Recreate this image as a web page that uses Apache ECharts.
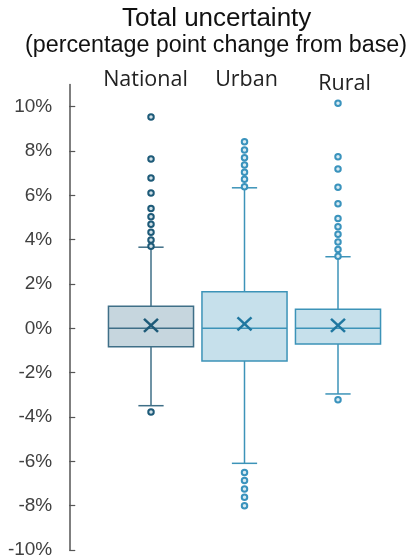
<!DOCTYPE html>
<html>
<head>
<meta charset="utf-8">
<script src="https://cdn.jsdelivr.net/npm/echarts@6/dist/echarts.min.js"></script>
<style>
  html, body { margin: 0; padding: 0; background: #ffffff; }
  #chart { width: 415px; height: 560px; }
</style>
</head>
<body>
<div id="chart"></div>
<script>
// Box-plot summaries, in percentage points
const categories = ['National', 'Urban', 'Rural'];
const lowerWhisker = [-3.49, -6.09, -2.96];
const quartile1 = [-0.83, -1.47, -0.71];
const medians = [0, 0, 0];
const quartile3 = [1.0, 1.65, 0.86];
const upperWhisker = [3.66, 6.34, 3.23];
const means = [0.13, 0.2, 0.13];

// Points beyond the whiskers
const outliersNational = [9.53, 7.64, 6.78, 6.10, 5.41, 5.03, 4.69, 4.33, 3.98, 3.70, -3.77];
const outliersUrban = [8.42, 8.04, 7.70, 7.37, 7.04, 6.72, 6.39, -6.50, -6.87, -7.25, -7.62, -8.00];
const outliersRural = [10.15, 7.74, 7.19, 6.37, 5.62, 4.96, 4.58, 4.24, 3.89, 3.56, 3.25, -3.22];

// Y-axis tick values
const yTicks = [-10, -8, -6, -4, -2, 0, 2, 4, 6, 8, 10];

const palette = [
  { fill: '#c6d6de', stroke: '#3f6f87', mean: '#1d5a78', dot: '#1d5a78', dotFill: '#d2e1e8' },
  { fill: '#c6e0eb', stroke: '#3c93b8', mean: '#1f77a0', dot: '#3a93bd', dotFill: '#d8ebf3' },
  { fill: '#c6e0eb', stroke: '#3c93b8', mean: '#1f77a0', dot: '#3a93bd', dotFill: '#d8ebf3' }
];

const boxData = categories.map((_, i) => [
  i, lowerWhisker[i], quartile1[i], medians[i], quartile3[i], upperWhisker[i], means[i]
]);

function renderBox(params, api) {
  const i = api.value(0);
  const c = palette[i];
  const band = api.size([1, 0])[0];
  const boxW = band * 0.91;
  const capW = band * 0.27;
  const pLow = api.coord([i, api.value(1)]);
  const pQ1 = api.coord([i, api.value(2)]);
  const pMed = api.coord([i, api.value(3)]);
  const pQ3 = api.coord([i, api.value(4)]);
  const pHigh = api.coord([i, api.value(5)]);
  const pMean = api.coord([i, api.value(6)]);
  const x = pMed[0];
  const lineStyle = { stroke: c.stroke, lineWidth: 1.5, fill: null };
  const mx = 7, my = 6.5;
  return {
    type: 'group',
    children: [
      { type: 'line', shape: { x1: x, y1: pQ3[1], x2: x, y2: pHigh[1] }, style: lineStyle },
      { type: 'line', shape: { x1: x, y1: pQ1[1], x2: x, y2: pLow[1] }, style: lineStyle },
      { type: 'line', shape: { x1: x - capW / 2, y1: pHigh[1], x2: x + capW / 2, y2: pHigh[1] }, style: lineStyle },
      { type: 'line', shape: { x1: x - capW / 2, y1: pLow[1], x2: x + capW / 2, y2: pLow[1] }, style: lineStyle },
      {
        type: 'rect',
        shape: { x: x - boxW / 2, y: pQ3[1], width: boxW, height: pQ1[1] - pQ3[1] },
        style: { fill: c.fill, stroke: c.stroke, lineWidth: 1.5 }
      },
      { type: 'line', shape: { x1: x - boxW / 2, y1: pMed[1], x2: x + boxW / 2, y2: pMed[1] }, style: lineStyle },
      {
        type: 'line',
        shape: { x1: x - mx, y1: pMean[1] - my, x2: x + mx, y2: pMean[1] + my },
        style: { stroke: c.mean, lineWidth: 2.5 }
      },
      {
        type: 'line',
        shape: { x1: x - mx, y1: pMean[1] + my, x2: x + mx, y2: pMean[1] - my },
        style: { stroke: c.mean, lineWidth: 2.5 }
      }
    ]
  };
}

function outlierSeries(values, i) {
  return {
    type: 'scatter',
    z: 5,
    symbol: 'circle',
    symbolSize: 5.5,
    itemStyle: { color: palette[i].dotFill, borderColor: palette[i].dot, borderWidth: 2, opacity: 1 },
    data: values.map(v => [i, v])
  };
}

const chart = echarts.init(document.getElementById('chart'), null, { renderer: 'canvas' });
chart.setOption({
  animation: false,
  backgroundColor: '#ffffff',
  title: [
    {
      text: 'Total uncertainty',
      left: 122, top: 6, padding: 0,
      textStyle: { fontFamily: 'Liberation Sans', fontSize: 26, fontWeight: 'normal', color: '#111111' }
    },
    {
      text: '(percentage point change from base)',
      left: 25, top: 34, padding: 0,
      textStyle: { fontFamily: 'Liberation Sans', fontSize: 23.3, fontWeight: 'normal', color: '#111111' }
    }
  ],
  grid: { left: 104.25, right: 30.25, top: 84.5, bottom: 10, containLabel: false },
  xAxis: {
    type: 'category',
    position: 'top',
    data: [
      { value: categories[0], textStyle: { padding: [0, 11, 4, 0] } },
      { value: categories[1], textStyle: { padding: [0, 0, 4, 4] } },
      { value: categories[2], textStyle: { padding: [0, 0, 0, 13] } }
    ],
    axisLine: { show: false },
    axisTick: { show: false },
    splitLine: { show: false },
    axisLabel: {
      interval: 0,
      hideOverlap: false,
      margin: -10.7,
      fontFamily: 'Open Sans',
      fontSize: 21.5,
      color: '#222222'
    }
  },
  yAxis: {
    type: 'value',
    min: -10,
    max: 11,
    offset: 35,
    splitLine: { show: false },
    axisLine: { show: true, lineStyle: { color: '#555555', width: 1.5 } },
    axisTick: { show: true, inside: true, length: 6, customValues: yTicks, lineStyle: { color: '#555555', width: 1.2 } },
    axisLabel: {
      customValues: yTicks,
      margin: 17,
      fontFamily: 'Liberation Sans',
      fontSize: 19,
      color: '#404040',
      formatter: v => v + '%'
    }
  },
  series: [
    {
      type: 'custom',
      renderItem: renderBox,
      encode: { x: 0, y: [1, 2, 3, 4, 5, 6] },
      data: boxData,
      z: 2
    },
    outlierSeries(outliersNational, 0),
    outlierSeries(outliersUrban, 1),
    outlierSeries(outliersRural, 2)
  ]
});
</script>
</body>
</html>
